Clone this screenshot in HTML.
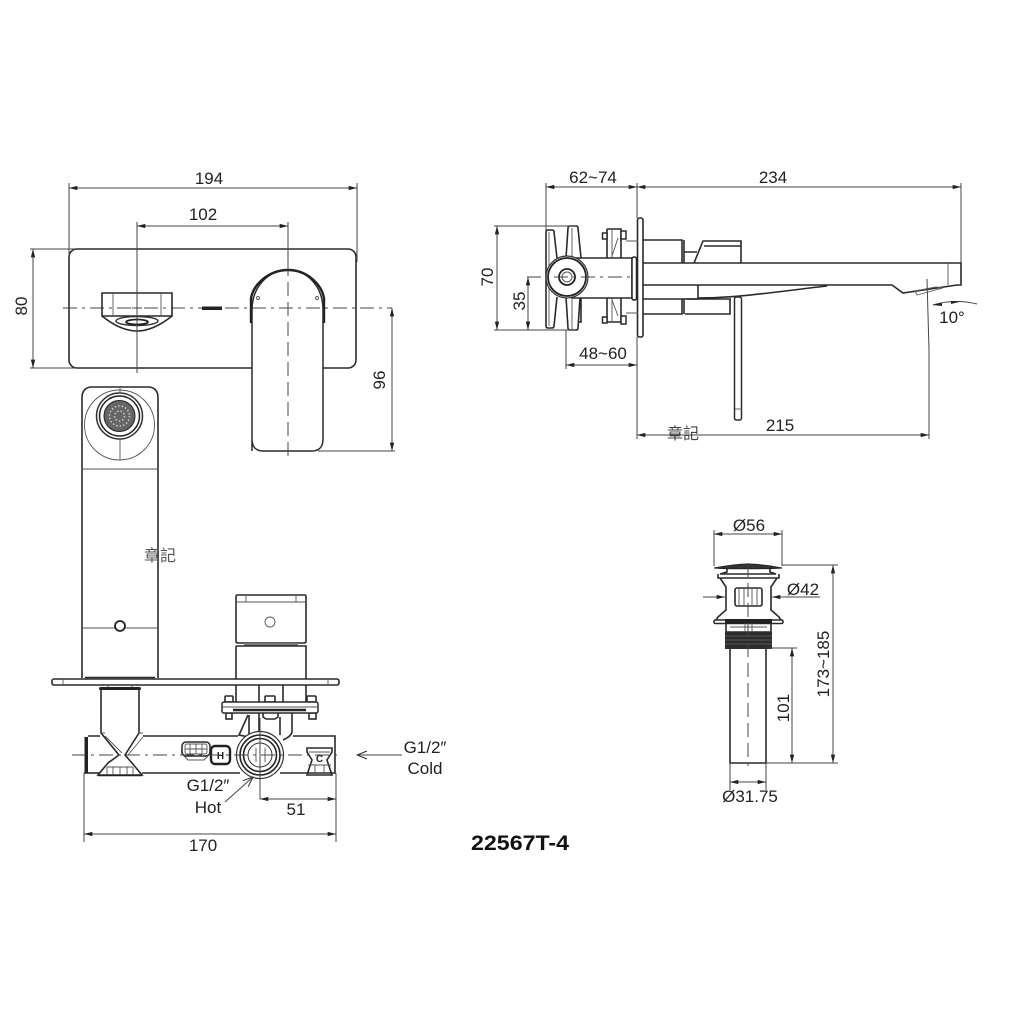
<!DOCTYPE html>
<html><head><meta charset="utf-8"><style>
html,body{margin:0;padding:0;background:#fff}
svg{display:block;filter:blur(.35px)}
text{font-family:"Liberation Sans","Noto Sans CJK TC",sans-serif;font-size:17px;fill:#222;text-anchor:middle}
.d{stroke:#444;stroke-width:1;fill:none}
.a{stroke:#444;stroke-width:1;fill:none;marker-start:url(#ar);marker-end:url(#ar)}
.c{stroke:#444;stroke-width:1;fill:none;stroke-dasharray:14 5 3 5}
.v{stroke:#444;stroke-width:1;fill:none;stroke-dasharray:14 6}
.m{stroke:#2a2a2a;stroke-width:1.600;fill:none}
.t{stroke:#555;stroke-width:.9;fill:none}
.h{stroke:#222;stroke-width:2.400;fill:none}
.w{stroke:#2a2a2a;stroke-width:1.500;fill:#fff}
</style></head><body>
<svg width="1024" height="1024" viewBox="0 0 1024 1024" xmlns="http://www.w3.org/2000/svg">
<defs>
<marker id="ar" viewBox="0 0 10 6" refX="10" refY="3" markerWidth="10" markerHeight="5" markerUnits="userSpaceOnUse" orient="auto-start-reverse"><path d="M0 0.4L10 3L0 5.6z" fill="#222"/></marker>
<marker id="op" viewBox="0 0 12 10" refX="11" refY="5" markerWidth="12" markerHeight="10" markerUnits="userSpaceOnUse" orient="auto"><path d="M1 1L11 5L1 9" fill="none" stroke="#333" stroke-width="1"/></marker>
</defs>
<rect width="1024" height="1024" fill="#fff"/>

<!-- TOP VIEW -->
<rect class="m" x="69" y="249" width="287" height="119" rx="8"/>
<path class="a" d="M69 188H357"/><path class="d" d="M69 183V256M357 183V262"/>
<path class="a" d="M137 226H288"/><path class="d" d="M137 222V373"/><path class="d" d="M288 222V262"/>
<path class="a" d="M33 249V368"/><path class="d" d="M30 249H76M30 368H76"/>
<path class="c" d="M63 308H392"/>
<rect x="202" y="306.500" width="20" height="3.500" fill="#222"/>
<path class="a" d="M392 308V451"/><path class="d" d="M318 451H395"/>
<path class="w" d="M252 451V310C252 287 268 270 288 270C308 270 323 287 323 310V439C323 447 319 451 312 451H263C256 451 252 447 252 439Z"/>
<path class="h" d="M251 323V298C254 283 270 270 288 270C306 270 321 283 324 298V323"/>
<circle class="t" cx="258" cy="298" r="1.500"/><circle class="t" cx="317" cy="298" r="1.500"/>
<path class="v" d="M288 262V456"/>
<path class="c" d="M252 308H323"/>
<path class="m" d="M102 293H172V316H102Z"/><path class="t" d="M113 293V316M161 293V316"/>
<path class="m" d="M102 316C112 324 124 331 137 331C150 331 162 324 172 316" stroke-width="1"/>
<ellipse cx="137" cy="321" rx="21" ry="4.500" fill="none" stroke="#333" stroke-width="1.500"/>
<ellipse cx="137" cy="322" rx="11" ry="2.500" fill="#fff" stroke="#222" stroke-width="1.800"/>
<path class="d" d="M137 293V373M132 308H142"/>

<text x="209" y="184">194</text><text x="203" y="220">102</text>
<text transform="translate(27,306) rotate(-90)">80</text>
<text transform="translate(385,380) rotate(-90)">96</text>

<!-- FRONT SPOUT -->
<path class="m" d="M82 678V397C82 391 86 387 92 387H148C154 387 158 391 158 397V678"/>
<circle class="t" cx="119.500" cy="425" r="35"/>
<path class="t" d="M120 387V392M120 438V460M82 469H158M82 628H158"/>
<circle cx="119.500" cy="416" r="23" fill="#fff" stroke="#333" stroke-width="1.500"/>
<circle cx="119.500" cy="416" r="20" fill="none" stroke="#222" stroke-width="1.500"/>
<circle cx="119.500" cy="416" r="15.500" fill="#666" stroke="#222" stroke-width="1"/>
<circle cx="119.500" cy="416" r="10" fill="none" stroke="#ccc" stroke-width="1.500" stroke-dasharray="1.500 2"/>
<circle cx="119.500" cy="416" r="5" fill="none" stroke="#ccc" stroke-width="1.500" stroke-dasharray="1.500 2"/>
<circle cx="120" cy="626" r="5" fill="#fff" stroke="#222" stroke-width="1.800"/>
<text x="160" y="561" style="font-size:16px;fill:#555">章記</text>

<!-- HANDLE SIDE -->
<path class="m" d="M237 595H305Q306 595 306 597V641Q306 643 304 643H238Q236 643 236 641V597Q236 595 237 595Z"/>
<path class="t" d="M236 602H306M246 595V602M296 595V602"/>
<rect x="244" y="643" width="54" height="3" fill="#777"/>
<circle class="t" cx="270" cy="622" r="5"/>
<path class="m" d="M236 646H306V679M236 646V679"/>
<rect class="m" x="52" y="679" width="287" height="6" rx="2"/>
<path class="t" d="M63 679V685M328 679V685"/>
<path class="m" d="M85 677.500H155" stroke-width="1"/>
<!-- below plate -->
<path class="m" d="M236 685V702M306 685V702M259 685V702M283 685V702"/>
<rect class="m" x="225" y="696" width="8" height="6" rx="1"/><rect class="m" x="265" y="696" width="10" height="6" rx="1"/><rect class="m" x="307" y="696" width="9" height="6" rx="1"/>
<rect class="m" x="226" y="713" width="6" height="6"/><rect class="m" x="309" y="713" width="7" height="6"/>
<path class="m" d="M263 713V717L266 719H275L278 717V713"/>
<rect class="w" x="222" y="702" width="96" height="11" rx="2"/>
<path class="t" d="M222 707H318"/>
<path d="M233 710H306" stroke="#222" stroke-width="2.500"/>
<path class="m" d="M248 715L239 735L249 737V715M259 713V731M280 717V735M292 713V732C291 736 287 738 283 740" stroke-width="1.300"/>
<!-- VALVE BODY -->
<path class="m" d="M143 736H238M293 736H335V773H280M240 773H142M88 736H100"/>
<path class="m" d="M84 773H100"/>
<rect x="84.500" y="737" width="3.500" height="36" fill="#222"/>
<path class="m" d="M101 733V690M139 733V690"/>
<rect x="99" y="687" width="42" height="3" rx="1.500" fill="#222"/>
<path class="t" d="M108 684V687M132 684V687"/>
<path class="m" d="M101 733L119 755L108 763L98 775H142L132 763L125 755L139 733" stroke-width="1.300"/>
<path class="t" d="M105 736L122 753M143 737L128 755M100 733H105M139 733H143"/>
<path class="t" d="M107 767H133M107 767V776M113 767V776M120 767V776M127 767V776M133 767V776"/>
<path d="M98 775.500H142" stroke="#222" stroke-width="1.600"/>
<!-- H grid -->
<rect class="m" x="182" y="742" width="28" height="14" rx="4"/>
<rect class="t" x="185" y="744" width="22" height="10" rx="2"/>
<path class="t" d="M190 744V754M196 744V754M202 744V754M185 749H207"/>
<path class="t" d="M184 756L188 760H204L208 756"/>
<rect class="h" x="211" y="746" width="19" height="18" rx="4" stroke-width="1.700"/>
<text x="220.500" y="759" style="font-size:10px;font-weight:bold">H</text>
<!-- C lug -->
<path class="m" d="M307 748H332V752L327 760L332 775H307L312 760L307 752Z" fill="#fff" stroke-width="1.300"/>
<path class="t" d="M308 765H331M315 765V775M324 765V775M309 752H330"/>
<text x="319.500" y="762" style="font-size:10px;font-weight:bold">C</text>
<!-- port -->
<circle cx="260" cy="755" r="23.500" fill="#fff" stroke="#333" stroke-width="1.200"/>
<circle cx="260" cy="755" r="20" fill="none" stroke="#222" stroke-width="1.600"/>
<circle cx="260" cy="755" r="16.500" fill="none" stroke="#222" stroke-width="1.600"/>
<circle cx="260" cy="755" r="12" fill="none" stroke="#333" stroke-width="1"/>
<path class="t" d="M256 748V762M265 748V762"/>
<path class="c" d="M72 755H342"/>
<path class="d" d="M260 718V799"/>

<text x="425" y="753">G1/2″</text><text x="425" y="774">Cold</text>
<path class="d" d="M402 755H357" marker-end="url(#op)"/>
<text x="208" y="791">G1/2″</text><text x="208" y="813">Hot</text>
<path class="d" d="M225 802L253 777" marker-end="url(#op)"/>
<path class="a" d="M260 799H336"/><path class="d" d="M336 773V803"/>
<text x="296" y="815">51</text>
<path class="a" d="M84 834H336"/><path class="d" d="M84 773V842M336 803V842"/>
<text x="203" y="851">170</text>
<text x="520" y="850" style="font-size:21px;font-weight:bold;fill:#111" textLength="98" lengthAdjust="spacingAndGlyphs">22567T-4</text>

<!-- SIDE VIEW -->
<path class="a" d="M546 187H637"/><path class="a" d="M637 187H961"/>
<path class="d" d="M546 183V258M637 183V218M637 337V439M961 183V263"/>
<rect class="m" x="637.500" y="218" width="5.500" height="119" rx="2"/>
<path class="m" d="M643 263H961V285H957L903 293L892 285H643" stroke-width="1.900"/>
<path class="t" d="M948 263V285"/>
<path class="m" d="M698 285V298C740 298 790 290 827 286" stroke-width="1.200"/>
<path class="t" d="M915 291L936 287L943 288L917 295Z"/>
<path class="m" d="M643 240H682V263M684 240V263M684 252H697M694 263L703 241H741V263M704 246H741M643 299H698"/>
<path class="m" d="M643 314H682V299M684 299V314M685 314H730V299M686 299H731"/>
<rect class="w" x="734.500" y="297" width="7" height="123" rx="2"/>
<path class="t" d="M735 409H742"/>
<!-- flanges -->
<path class="m" d="M546 232Q546 230 548 230H552Q554 230 554 232L557 258M546 232V326Q546 328 548 328H552Q554 328 554 326L557 297"/>
<path class="m" d="M568 228Q568 226 570 226H576Q578 226 578 228L581 258M568 228L566 258M568 328Q568 330 570 330H576Q578 330 578 328L580 298M568 328L566 297M581 298V322H578"/>
<path class="t" d="M549 232V326M572 228V330"/>
<!-- bolts right -->
<path class="m" d="M607 229H621V258M607 229V258M607 298V322H621V298"/>
<rect class="w" x="602.500" y="233" width="4.500" height="6"/><rect class="w" x="602.500" y="317" width="4.500" height="6"/>
<rect class="w" x="621" y="231" width="5" height="8"/><rect class="w" x="621" y="316" width="5" height="8"/>
<path class="t" d="M612 229V258M612 298V322M618 238L612 256M618 316L612 300M626 241H638M626 313H638"/>
<!-- body -->
<path class="w" d="M572 258H632V298H572Z"/>
<rect x="632" y="257" width="4.500" height="43" rx="2" fill="#fff" stroke="#222" stroke-width="1.500"/>
<circle cx="567" cy="277" r="21" fill="#fff" stroke="#333" stroke-width="1.200"/>
<circle cx="567" cy="277" r="19" fill="none" stroke="#222" stroke-width="1.800"/>
<circle cx="567" cy="277" r="8" fill="none" stroke="#222" stroke-width="1.800"/>
<circle cx="567" cy="277" r="5" fill="none" stroke="#555" stroke-width="1"/>
<path class="c" d="M527 277H634"/>
<path class="a" d="M497 226V330"/><path class="d" d="M494 226H576M494 330H576"/>
<path class="a" d="M528 277V330"/>
<path class="a" d="M566 365H637"/><path class="d" d="M566 330V369"/>
<path class="a" d="M637 435H929"/>
<text x="593" y="183">62~74</text><text x="773" y="183">234</text>
<text transform="translate(493,277) rotate(-90)">70</text>
<text transform="translate(525,301) rotate(-90)">35</text>
<text x="603" y="359">48~60</text>
<text x="780" y="431">215</text>
<text x="683" y="439" style="font-size:16px;fill:#444">章記</text>
<!-- 10deg -->
<path class="d" d="M927 279L929 350V439"/>
<path class="d" d="M933 305C945 301 962 300 977 304"/>
<path d="M932 305L942 303L942 306ZM961 301.500L951 301L951 304Z" fill="#222"/>
<text x="952" y="323">10°</text>

<!-- DRAIN -->
<path class="a" d="M714 534H782"/><path class="d" d="M714 530V566M782 530V566"/>
<path d="M714 568C725 566 738 564 748 564C758 564 771 566 782 568C771 569 725 569 714 568Z" fill="#333" stroke="#222" stroke-width="1"/>
<path class="m" d="M727 569V572L720 574H776L770 572V569" stroke-width="1.200"/>
<path class="m" d="M718 574V578H779V574"/>
<path class="m" d="M720 578L726 587V610L718 617L716 620M777 578L771 587V610L779 617L781 620"/>
<rect class="m" x="735" y="588" width="27" height="18" rx="2"/><path class="t" d="M739 588V606M744 588V606M752 588V606M757 588V606"/>
<rect class="m" x="714" y="620" width="69" height="3.500" rx="1.500"/>
<rect x="725" y="619" width="47" height="4.500" fill="#222"/>
<path class="m" d="M726 623V632H771V623"/><path class="t" d="M730 627H767M745 623V632M752 623V632"/>
<rect x="725" y="632" width="47" height="17" fill="#2c2c2c"/>
<path d="M725 636H772M725 640H772M725 644H772" stroke="#666" stroke-width=".7"/>
<path class="m" d="M730 649V763H766V649"/>
<path class="v" d="M748 563V766"/>
<path class="d" d="M703 597H725" marker-end="url(#ar)"/>
<path class="d" d="M820 597H772" marker-end="url(#ar)"/>
<path class="a" d="M833 565V763"/><path class="d" d="M782 565H838M766 763H838"/>
<path class="a" d="M792 648V763"/><path class="d" d="M766 648H797"/>
<path class="a" d="M730 782H766"/><path class="d" d="M730 763V790M766 763V790"/>
<text x="749" y="531">Ø56</text><text x="803" y="595">Ø42</text><text x="750" y="802">Ø31.75</text>
<text transform="translate(829,664) rotate(-90)">173~185</text>
<text transform="translate(789,708) rotate(-90)">101</text>
</svg>
</body></html>
